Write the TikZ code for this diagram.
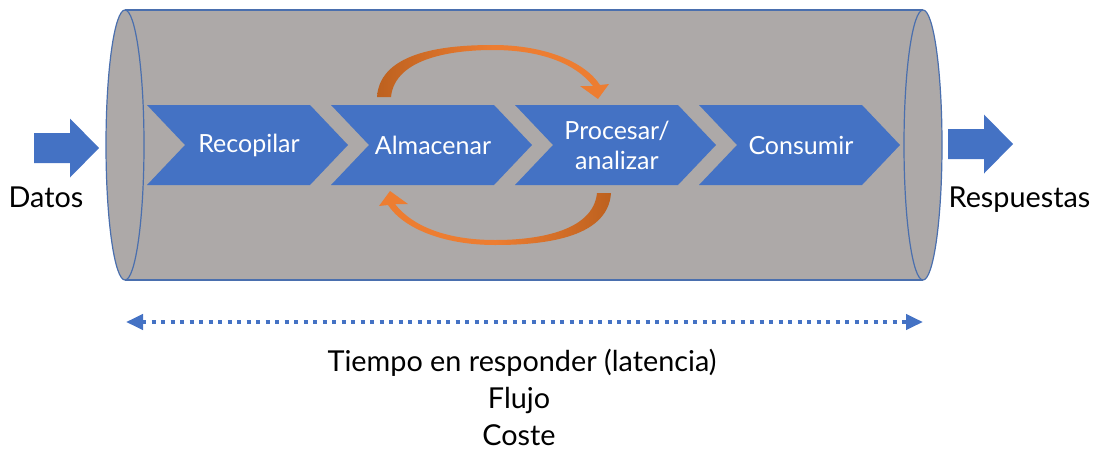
\documentclass[tikz,border=0pt]{standalone}
\usepackage{fontspec}
\setsansfont{Lato}
\usepackage{tikz}
\usetikzlibrary{arrows.meta,calc,positioning}
\definecolor{tubegray}{HTML}{ADA9A8}
\definecolor{tubeline}{HTML}{4A6FAE}
\definecolor{stageblue}{HTML}{4472C4}
\definecolor{looporange}{HTML}{ED7D31}
\definecolor{loopdark}{HTML}{BD611F}
\tikzset{%
  >={Triangle[width=7.5pt,length=8.5pt]},
  % Specifications for style of nodes:
            stage/.style = {text=white, align=center, inner sep=0pt,
                           font=\sffamily\fontsize{12.5}{15}\selectfont},
            outer/.style = {text=black, align=center, inner sep=0pt,
                           font=\sffamily\fontsize{14.4}{19}\selectfont},
             chev/.style = {fill=stageblue},
             tube/.style = {fill=tubegray, draw=tubeline, line width=0.6pt},
        orangearc/.style = {left color=loopdark, right color=looporange,
                           middle color=looporange},
       orangearcb/.style = {left color=looporange, right color=loopdark,
                           middle color=looporange}
                           }

\begin{document}
\begin{tikzpicture}[x=0.5pt, y=-0.5pt, node distance=92pt]
                    \useasboundingbox (0,0) rectangle (1098,450);

                    % tube
                    \fill[tubegray] (125,10) rectangle (923,280);
                    \draw[tubeline, line width=0.6pt] (125,10) -- (923,10) (125,280) -- (923,280);
                    \draw[tube] (923,145) ellipse [x radius=19, y radius=135];
                    \draw[tube] (125,145) ellipse [x radius=19, y radius=135];

                    \foreach \c in {247.5, 431.5, 615.5, 799.5}
                        \fill[chev] (\c-100.5,105) -- (\c+62.5,105) -- (\c+100.5,145)
                                    -- (\c+62.5,185) -- (\c-100.5,185) -- (\c-62.5,145) -- cycle;

                    \node (rec) [stage] at (249,145)  {Recopilar};
                    \node (alm) [stage, right of=rec]   {Almacenar};
                    \node (pro) [stage, right of=alm]   {Procesar/\\analizar};
                    \node (con) [stage, right of=pro]   {Consumir};

                    \foreach \x/\y in {34/148, 948/144}
                        \fill[stageblue] (\x,\y-15) -- ++(36,0) -- ++(0,-14.5) -- ++(29,29.5)
                                         -- ++(-29,29.5) -- ++(0,-14.5) -- ++(-36,0) -- cycle;

                    \node (datos) [outer, anchor=base] at (46,207)     {Datos};
                    \node (resp)  [outer, anchor=base] at (1019.5,207) {Respuestas};

                    \shade[orangearc] (377,97) .. controls (380,50) and (450,45) .. (493,45)
                          .. controls (545,45) and (585,62) .. (600,85) -- (609,84) -- (598,99)
                          -- (580,86) -- (593,86) .. controls (575,63) and (540,50) .. (493,50)
                          .. controls (455,50) and (395,57) .. (391,97) -- cycle;
                    \shade[orangearcb] (611,193) .. controls (608,240) and (538,245) .. (495,245)
                          .. controls (443,245) and (403,228) .. (388,205) -- (379,206) -- (390,191)
                          -- (408,204) -- (395,204) .. controls (413,227) and (448,240) .. (495,240)
                          .. controls (533,240) and (593,233) .. (597,193) -- cycle;

                    \coordinate (span-l) at (126,322);
                    \coordinate (span-r) at (923,322);
                    \draw[<->, stageblue, line width=2pt, dash pattern=on 2pt off 2.75pt] (span-l) -- (span-r);

                    \node (lat)   [outer, anchor=base] at (522,371) {Tiempo en responder (latencia)};
                    \node (flujo) [outer, anchor=base] at (519,408.5) {Flujo};
                    \node (coste) [outer, anchor=base] at (519,445) {Coste};
                    %\node (label) [below of=lat] {};
\end{tikzpicture}
\end{document}
